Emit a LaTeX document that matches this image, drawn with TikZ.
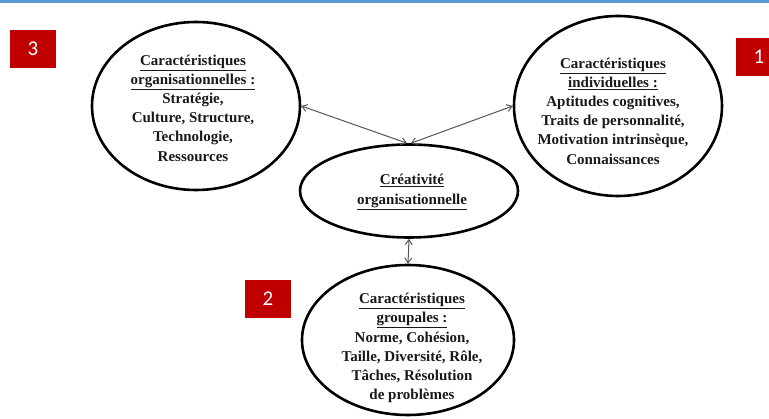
\documentclass[tikz,border=0pt]{standalone}
\usepackage{fontspec}
\setmainfont{Liberation Serif}
\newfontfamily\tagfont{Carlito}
\usetikzlibrary{positioning,arrows.meta,shapes.geometric}
\definecolor{tagred}{RGB}{192,0,0}
\definecolor{barblue}{RGB}{91,155,213}
\definecolor{linkgray}{RGB}{85,85,85}

\begin{document}
\begin{tikzpicture}[x=1pt,y=-1pt,
			bubble/.style={draw,ellipse,line width=2.6pt,inner sep=0pt},
			txt/.style={align=center,text=black!90,font=\bfseries\fontsize{15}{19.2}\selectfont},
			tag/.style={fill=tagred,text=white,minimum width=46pt,minimum height=38pt,inner sep=0pt,font=\tagfont\fontsize{21}{21}\selectfont},
			link/.style={{Straight Barb[length=5pt,width=7pt]}-{Straight Barb[length=5pt,width=7pt]},draw=linkgray,line width=1pt}]
			\useasboundingbox (0,0) rectangle (769,419);
			\clip (0,0) rectangle (769,419);
			\fill [barblue] (0,0) rectangle (769,3);

			% les quatre ellipses
			\node (org) [bubble,minimum width=208pt,minimum height=168pt] at (196,106) {};
			\node (ind) [bubble,minimum width=208pt,minimum height=180pt] at (618,106) {};
			\node (crea) [bubble,minimum width=218pt,minimum height=93pt] at (409,191) {};
			\node (grp) [bubble,minimum width=212pt,minimum height=150pt] at (408,340) {};

			\node [txt,xshift=-3pt,yshift=-2pt] at (org) {\underline{Caractéristiques}\\ \underline{organisationnelles :}\\ Stratégie,\\ Culture, Structure,\\ Technologie,\\ Ressources};
			\node [txt,xshift=-5pt,yshift=-5pt] at (ind) {\underline{Caractéristiques}\\ \underline{individuelles :}\\ Aptitudes cognitives,\\ Traits de personnalité,\\ Motivation intrinsèque,\\ Connaissances};
			\node [txt,xshift=3pt,yshift=-1pt] at (crea) {\underline{Créativité}\\ \underline{organisationnelle}};
			\node [txt,xshift=4pt,yshift=-8pt] at (grp) {\underline{Caractéristiques}\\ \underline{groupales :}\\ Norme, Cohésion,\\ Taille, Diversité, Rôle,\\ Tâches, Résolution\\ de problèmes};

			% numeros
			\node (t3) [tag] at (33,49) {3};
			\node (t1) [tag] at (759,57) {1};
			\node (t2) [tag] at (268,299) {2};

			\draw [link] (org.east) -- ([xshift=-2pt]crea.north);
			\draw [link] (ind.west) -- ([xshift=2pt]crea.north);
			\draw [link] (crea.south) -- (grp.north);
		\end{tikzpicture}
\end{document}
